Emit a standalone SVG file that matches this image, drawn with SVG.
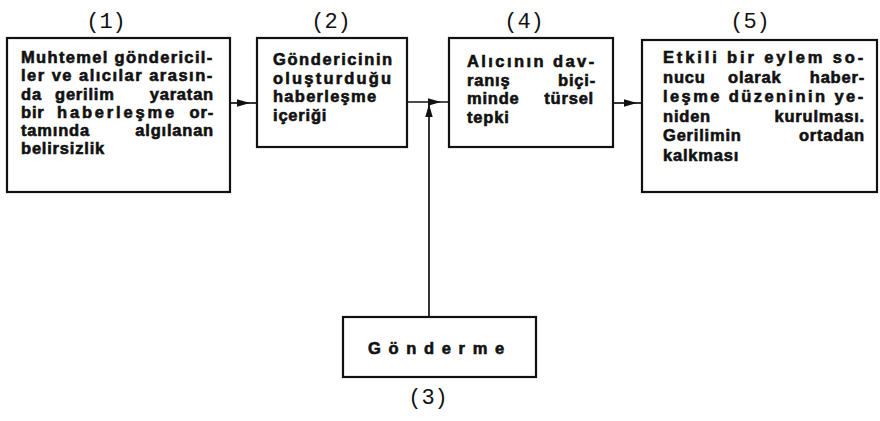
<svg xmlns="http://www.w3.org/2000/svg" width="880" height="421" viewBox="0 0 880 421">
  <style>
    .box { fill: #fff; stroke: #111; stroke-width: 2.2; }
    .txt { font-family: "Liberation Sans", Arial, sans-serif; font-weight: bold; font-size: 16.5px; letter-spacing: 0.8px; fill: #111; stroke: #111; stroke-width: 0.6; }
    .end { text-anchor: end; }
    .num { font-family: "Liberation Mono", "DejaVu Sans Mono", monospace; font-size: 22px; fill: #111; text-anchor: middle; }
    .wire { fill: none; stroke: #111; stroke-width: 1.7; }
  </style>
  <defs>
    <marker id="ah" viewBox="0 0 14 10" refX="13" refY="5" markerWidth="14" markerHeight="10" markerUnits="userSpaceOnUse" orient="auto">
      <path d="M0,1.3 L13,5 L0,8.7 Z" fill="#111"/>
    </marker>
  </defs>

  <rect width="880" height="421" fill="#fff"/>

  <!-- connectors -->
  <g id="connectors">
    <path class="wire" d="M230,103 H250 H257" marker-mid="url(#ah)"/>
    <path class="wire" d="M407,102 H441 H449" marker-mid="url(#ah)"/>
    <path class="wire" d="M429,317 V104" marker-end="url(#ah)"/>
    <path class="wire" d="M613,103 H637 H642" marker-mid="url(#ah)"/>
  </g>

  <!-- (1) -->
  <g id="node1">
    <text class="num" x="106" y="28">(1)</text>
    <rect class="box" x="7" y="38" width="223" height="154"/>
    <text class="txt" x="21" y="63" textLength="192" lengthAdjust="spacing">Muhtemel göndericil-</text>
    <text class="txt" x="21" y="81" textLength="192" lengthAdjust="spacing">ler ve alıcılar arasın-</text>
    <text class="txt" y="99.5"><tspan x="21">da</tspan> <tspan x="55">gerilim</tspan> <tspan class="end" x="214">yaratan</tspan></text>
    <text class="txt" y="118"><tspan x="21">bir</tspan> <tspan x="57" textLength="118" lengthAdjust="spacing">haberleşme</tspan> <tspan class="end" x="214">or-</tspan></text>
    <text class="txt" y="136"><tspan x="21">tamında</tspan> <tspan class="end" x="214">algılanan</tspan></text>
    <text class="txt" x="21" y="154">belirsizlik</text>
  </g>

  <!-- (2) -->
  <g id="node2">
    <text class="num" x="331" y="28">(2)</text>
    <rect class="box" x="257" y="38" width="150" height="109"/>
    <text class="txt" x="273" y="65" textLength="120" lengthAdjust="spacing">Göndericinin</text>
    <text class="txt" x="273" y="83.5" textLength="119" lengthAdjust="spacing">oluşturduğu</text>
    <text class="txt" x="273" y="102" textLength="104" lengthAdjust="spacing">haberleşme</text>
    <text class="txt" x="273" y="120.5">içeriği</text>
  </g>

  <!-- (3) -->
  <g id="node3">
    <rect class="box" x="343" y="317" width="193" height="60"/>
    <text class="txt" x="368" y="353.5" textLength="137" lengthAdjust="spacing">Gönderme</text>
    <text class="num" x="428" y="404">(3)</text>
  </g>

  <!-- (4) -->
  <g id="node4">
    <text class="num" x="524" y="28">(4)</text>
    <rect class="box" x="449" y="38" width="164" height="109"/>
    <text class="txt" x="467" y="66.5" textLength="128" lengthAdjust="spacing">Alıcının dav-</text>
    <text class="txt" y="85.5"><tspan x="467">ranış</tspan> <tspan class="end" x="596">biçi-</tspan></text>
    <text class="txt" y="104"><tspan x="467">minde</tspan> <tspan class="end" x="594">türsel</tspan></text>
    <text class="txt" x="467" y="122.5">tepki</text>
  </g>

  <!-- (5) -->
  <g id="node5">
    <text class="num" x="750" y="28">(5)</text>
    <rect class="box" x="642" y="40" width="235" height="152"/>
    <text class="txt" x="663" y="63" textLength="201" lengthAdjust="spacing">Etkili bir eylem so-</text>
    <text class="txt" y="82.5"><tspan x="663">nucu</tspan> <tspan x="728">olarak</tspan> <tspan class="end" x="865">haber-</tspan></text>
    <text class="txt" x="663" y="102" textLength="201" lengthAdjust="spacing">leşme düzeninin ye-</text>
    <text class="txt" y="121.5"><tspan x="663">niden</tspan> <tspan class="end" x="865">kurulması.</tspan></text>
    <text class="txt" y="141"><tspan x="663">Gerilimin</tspan> <tspan class="end" x="865">ortadan</tspan></text>
    <text class="txt" x="663" y="160.5">kalkması</text>
  </g>
</svg>
